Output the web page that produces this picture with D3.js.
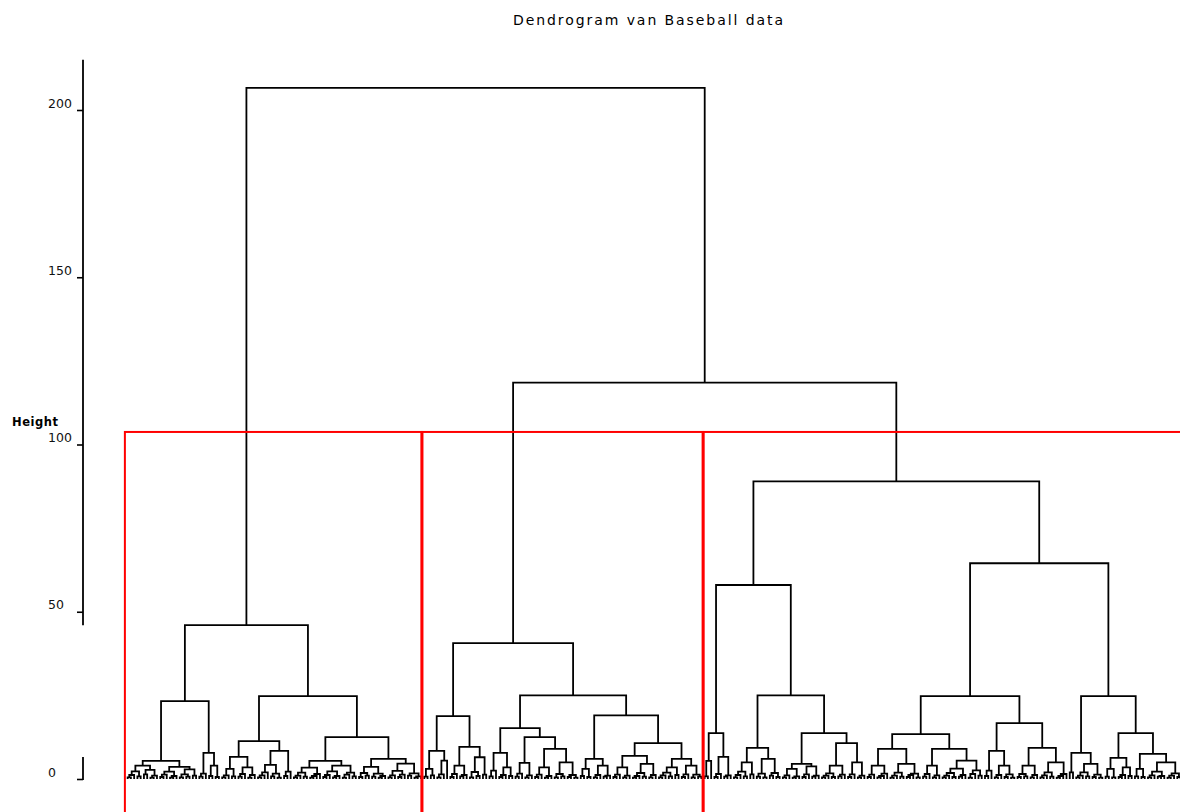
<!DOCTYPE html>
<html>
<head>
<meta charset="utf-8">
<script src="https://cdn.jsdelivr.net/npm/d3@7"></script>
<style>
  body { margin: 0; background: #fff; }
  svg { display: block; }
  text { font-family: "DejaVu Sans", "Liberation Sans", Arial, sans-serif; fill: #000; }
</style>
</head>
<body>
<svg id="chart" width="1180" height="812"></svg>
<script>
// ---- Data ---------------------------------------------------------------
// Texts and axis ticks
const titleText = "Dendrogram van Baseball data";
const yLabelText = "Height";
const yTicks = [0, 50, 100, 150, 200];
// The drawn axis line has two pieces (in height units)
const axisSpans = [[46, 215], [-0.3, 6.6]];

// Merge heights of the top of the tree
const rootHeight = 206.6;   // cluster 1 joins the rest
const upperHeight = 118.5;  // cluster 2 joins cluster 3

// Subtrees in Newick-like notation: "x" is a player, ")h" closes a merge at height h
// Cluster 1
const branchA1 = "(((((x,x)0.5,x)1.2,(x,x)0.8)2.3,((x,x)1.4,((x,x)0.4,x)1.0)2.7)4.0,((((x,x)0.6,x)1.3,((x,x)0.4,x)0.9)2.2,(((x,x)0.5,(x,x)0.7)1.4,(x,x)1.0)2.9)3.6)5.4";
const branchA2 = "(((x,x)0.7,x)1.6,((x,x)0.9,(x,x)0.6)4.0)7.8";
const branchB1 = "(((((x,x)0.5,x)1.1,(x,x)0.8)3.0,(((x,x)0.7,x)1.5,((x,x)0.4,x)1.2)3.5)6.6,(((((x,x)0.5,x)1.1,x)2.0,((x,x)0.8,(x,x)0.4)1.6)4.2,((x,x)0.9,x)2.2)8.4)11.3";
const branchB2 = "((((((x,x)0.5,x)1.0,(x,x)0.7)1.9,(((x,x)0.4,x)0.9,x)1.5)3.4,((((x,x)0.6,x)1.2,((x,x)0.5,x)0.9)2.3,(((x,x)0.4,x)1.3,(x,x)0.8)1.9)4.0)5.4,((((x,x)0.6,(x,x)1.0)1.8,((x,x)0.7,((x,x)0.4,x)0.9)1.6)3.6,((((x,x)0.5,x)1.1,((x,x)0.6,x)1.3)2.4,((x,x)1.0,((x,x)0.4,x)0.8)1.7)4.6)6.0)12.5";
const cluster1 = `((${branchA1},${branchA2})23.3,(${branchB1},${branchB2})24.8)46.0`;

// Cluster 2
const branchD1 = "((((x,x)0.7,(x,x)1.1)3.0,(((x,x)0.5,x)1.4,x)5.5)8.4,((((x,x)0.6,x)1.5,((x,x)0.8,x)1.2)4.0,(((x,x)0.5,(x,x)0.9)2.1,(x,x)1.3)6.5)9.6)18.8";
const branchD2a = "((((x,x)0.8,x)2.5,(((x,x)0.6,x)1.2,(x,x)0.9)3.5)7.8,((((x,x)0.7,x)1.6,((x,x)0.5,x)1.1)4.8,((((x,x)0.6,x)1.3,((x,x)0.4,x)0.9)3.5,(((x,x)0.5,(x,x)0.8)1.5,((x,x)0.6,(x,x)0.4)1.2)5.0)9.0)12.5)15.2";
const branchD2b = "((((x,x)0.9,(x,x)0.6)3.0,(((x,x)0.5,x)1.2,((x,x)0.7,x)1.0)4.0)6.0,(((((x,x)0.6,x)1.3,((x,x)0.5,x)1.0)3.5,((((x,x)0.4,x)0.9,(x,x)0.7)1.8,((x,x)0.5,x)1.2)4.5)6.9,(((((x,x)0.5,x)1.1,(x,x)0.8)1.9,(x,x)1.2)3.5,(((x,x)0.6,x)1.4,((x,x)0.5,(x,x)0.7)1.3)4.0)6.0)10.7)19.0";
const cluster2 = `(${branchD1},(${branchD2a},${branchD2b})25.0)40.6`;

// Cluster 3
const branchE1 = "(((x,x)0.8,x)5.4,(((x,x)0.6,x)1.5,((x,x)0.7,x)1.1)6.6)13.7";
const branchE2 = "((((((x,x)0.5,x)1.2,(x,x)0.8)2.2,(x,x)1.4)5.0,(((x,x)0.7,(x,x)0.5)1.6,((x,x)1.0,(x,x)0.6)1.8)6.0)9.3,(((((x,x)0.5,x)1.1,((x,x)0.4,x)0.8)3.0,(((x,x)0.6,x)1.4,((x,x)0.7,x)1.0)3.8)4.5,(((((x,x)0.5,x)1.0,(x,x)0.6)1.7,((x,x)0.8,x)1.3)4.0,(((x,x)0.6,x)1.4,((x,x)0.5,x)1.0)5.0)10.7)13.7)25.0";
const branchF1a = "(((((x,x)0.6,x)1.3,(((x,x)0.5,x)0.9,x)1.6)4.0,((((x,x)0.4,x)1.0,(x,x)0.7)1.9,(((x,x)0.6,x)1.2,(x,x)0.5)1.6)4.5)9.0,((((x,x)0.7,x)1.5,((x,x)0.5,x)1.1)4.0,(((((x,x)0.5,x)1.0,(x,x)0.6)1.8,((x,x)0.7,x)1.2)3.1,(((x,x)0.4,x)1.5,(x,x)1.0)2.6)5.5)9.0)13.4";
const branchF1b = "((((x,x)0.9,x)2.5,(((x,x)0.5,x)1.2,((x,x)0.6,(x,x)0.4)1.4)4.0)8.4,((((x,x)0.6,(x,x)0.8)1.5,((x,x)0.5,x)1.2)4.0,((((x,x)0.5,x)1.1,(x,x)0.7)2.0,(((x,x)0.4,x)0.9,x)1.5)5.0)9.3)16.7";
const branchF2a = "((x,x)2.0,((((x,x)0.5,x)1.0,(x,x)0.8)2.0,((x,x)0.6,(x,x)0.4)1.3)4.5)7.8";
const branchF2b = "((((x,x)0.7,(x,x)0.5)3.0,(((x,x)0.6,x)1.2,(x,x)0.9)3.5)6.3,(((x,x)0.8,(x,x)0.6)3.0,((((x,x)0.5,x)1.1,((x,x)0.7,x)0.9)2.2,(((x,x)0.4,x)1.0,(x,x)0.6)1.7)5.0)7.5)13.7";
const cluster3 = `((${branchE1},${branchE2})58.0,((${branchF1a},${branchF1b})24.8,(${branchF2a},${branchF2b})24.8)64.5)89.0`;

// ---- Parsing -------------------------------------------------------------
function parseTree(src) {
  const s = src.replace(/\s+/g, "");
  let i = 0;
  function node() {
    if (s[i] === "(") {
      i++;
      const children = [node()];
      while (s[i] === ",") { i++; children.push(node()); }
      i++; // closing bracket
      const m = /^[0-9.]+/.exec(s.slice(i));
      i += m[0].length;
      return { h: +m[0], children };
    }
    i++; // leaf token
    return { h: 0 };
  }
  return node();
}

const clusters = [parseTree(cluster1), parseTree(cluster2), parseTree(cluster3)];
const treeData = {
  h: rootHeight,
  children: [clusters[0], { h: upperHeight, children: [clusters[1], clusters[2]] }]
};

// ---- Layout ----------------------------------------------------------------
const svg = d3.select("#chart");
const root = d3.hierarchy(treeData);
const n = root.leaves().length;
d3.cluster().separation(() => 1).size([n - 1, 1])(root);

const leafStep = 3.27;
const x = d3.scaleLinear().domain([0, n - 1]).range([126, 126 + leafStep * (n - 1)]);
const y = d3.scaleLinear().domain([0, 200]).range([779, 110]);

// ---- Dendrogram ------------------------------------------------------------
const links = root.descendants().filter(d => d.children);
svg.append("g")
  .attr("fill", "none")
  .attr("stroke", "#000")
  .attr("stroke-width", 1.8)
  .selectAll("path")
  .data(links)
  .join("path")
  .attr("d", d => {
    const kids = d.children;
    const first = kids[0], last = kids[kids.length - 1];
    let p = `M${x(first.x)},${y(first.data.h)}V${y(d.data.h)}H${x(last.x)}V${y(last.data.h)}`;
    for (let k = 1; k < kids.length - 1; k++) {
      p += `M${x(kids[k].x)},${y(d.data.h)}V${y(kids[k].data.h)}`;
    }
    return p;
  });

// ---- Cluster rectangles ------------------------------------------------------
// Cut halfway between the last two merges that separate the three clusters
const cutHeight = (upperHeight + clusters[2].h) / 2;
const clusterRanges = [];
{
  let start = 0;
  clusters.forEach(c => {
    const size = d3.hierarchy(c).leaves().length;
    clusterRanges.push([start, start + size - 1]);
    start += size;
  });
}
svg.append("g")
  .attr("fill", "none")
  .attr("stroke", "#ff0000")
  .attr("stroke-width", 2)
  .selectAll("rect")
  .data(clusterRanges)
  .join("rect")
  .attr("x", d => x(d[0] - 0.34))
  .attr("y", y(cutHeight))
  .attr("width", d => x(d[1] + 0.33) - x(d[0] - 0.34))
  .attr("height", 900);

// ---- Axis ------------------------------------------------------------------
const axisG = svg.append("g").attr("transform", "translate(83,0)");
axisG.call(d3.axisLeft(y).tickValues(yTicks).tickSize(6).tickSizeOuter(0).tickFormat(d3.format("d")));
axisG.select(".domain").remove();
axisG.selectAll(".tick line").attr("stroke", "#000").attr("stroke-width", 1.6);
axisG.selectAll(".tick text")
  .attr("x", 48 - 83)
  .attr("dy", -3)
  .attr("text-anchor", "start")
  .style("font-size", "12.5px")
  .style("fill", "#111");
axisG.selectAll(".axis-span")
  .data(axisSpans)
  .join("line")
  .attr("class", "axis-span")
  .attr("x1", 0).attr("x2", 0)
  .attr("y1", d => y(d[0]))
  .attr("y2", d => y(d[1]))
  .attr("stroke", "#000")
  .attr("stroke-width", 1.8);

// ---- Texts -----------------------------------------------------------------
svg.append("text")
  .attr("x", 648)
  .attr("y", 25)
  .attr("text-anchor", "middle")
  .attr("textLength", 270)
  .attr("lengthAdjust", "spacing")
  .style("font-size", "14px")
  .text(titleText);

svg.append("text")
  .attr("x", 12)
  .attr("y", 426)
  .attr("textLength", 46)
  .attr("lengthAdjust", "spacing")
  .style("font-size", "11.5px")
  .style("font-weight", "bold")
  .text(yLabelText);
</script>
</body>
</html>
